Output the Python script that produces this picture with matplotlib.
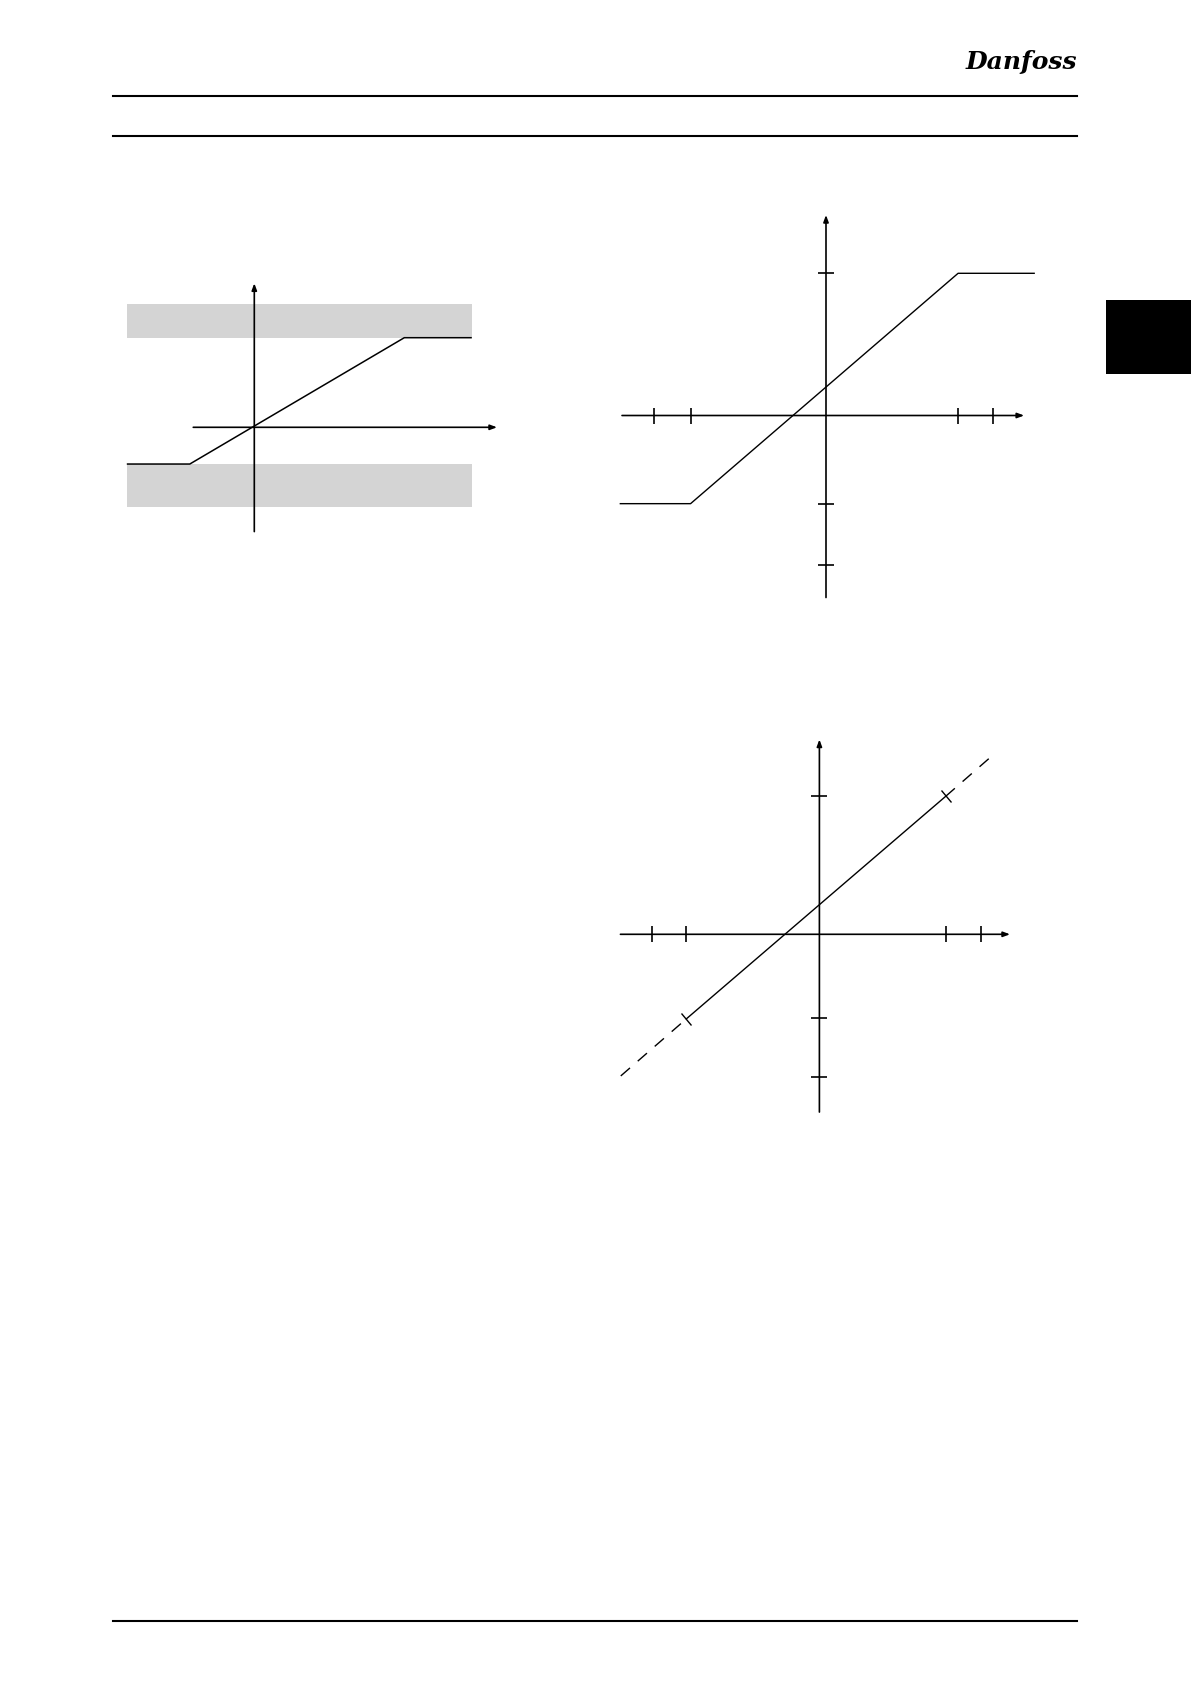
import matplotlib
matplotlib.use('Agg')
import matplotlib.pyplot as plt
from matplotlib.markers import MarkerStyle
from matplotlib.transforms import Affine2D
from matplotlib.patches import Rectangle
from matplotlib.lines import Line2D

W, H = 1191, 1684

# ---------------- data ----------------
# Chart 1 (clamped reference with limit bands)
c1_line_x = [-85, -43, 100, 145]
c1_line_y = [-41, -41, 100, 100]
c1_band_x = [-85, 145]
c1_band_upper = [100, 137.6]
c1_band_lower = [-88.6, -41]
c1_xaxis = [-40.7, 161.8]
c1_yaxis = [-116.4, 160.7]

# Chart 2 (scaled reference with clamped ends)
c2_xticks = [-103, -81, 79, 100]
c2_yticks = [100, -62, -105]
c2_line_x = [-123, -81, 79, 124.5]
c2_line_y = [-62, -62, 100, 100]
c2_xaxis = [-122, 118.5]
c2_yaxis = [-128, 141]

# Chart 3 (scaled reference with extrapolation)
c3_xticks = [-100, -79.6, 75.5, 96.5]
c3_yticks = [97, -59, -100.4]
c3_solid_x = [-79.6, 75.5]
c3_solid_y = [-59.5, 97]
c3_dash_low_x = [-118.8, -79.6]
c3_dash_low_y = [-99.6, -59.5]
c3_dash_high_x = [75.5, 101.6]
c3_dash_high_y = [97, 123.8]
c3_xaxis = [-119, 114]
c3_yaxis = [-125, 137]

# ---------------- figure ----------------
fig = plt.figure(figsize=(W / 100, H / 100), dpi=100)
fig.patch.set_facecolor('white')


def make_axes(ox, oy, sx, sy, xlim, ylim):
    left = ox + xlim[0] * sx
    right = ox + xlim[1] * sx
    top = oy - ylim[1] * sy
    bot = oy - ylim[0] * sy
    ax = fig.add_axes([left / W, 1 - bot / H, (right - left) / W, (bot - top) / H])
    ax.set_xlim(xlim)
    ax.set_ylim(ylim)
    ax.axis('off')
    return ax


def axis_arrow(ax, start, end, lw=1.2):
    ax.annotate('', xy=end, xytext=start,
                arrowprops=dict(arrowstyle='-|>,head_length=0.4,head_width=0.15',
                                lw=lw, color='black', shrinkA=0, shrinkB=0,
                                mutation_scale=10), zorder=3)


# ---- Chart 1 ----
ax1 = make_axes(254.3, 427.3, 1.5, 0.896, (-90, 170), (-120, 165))
band_color = '#d4d4d4'
ax1.fill_between(c1_band_x, c1_band_upper[0], c1_band_upper[1], color=band_color, lw=0, zorder=1)
ax1.fill_between(c1_band_x, c1_band_lower[0], c1_band_lower[1], color=band_color, lw=0, zorder=1)
axis_arrow(ax1, (c1_xaxis[0], 0), (c1_xaxis[1], 0))
axis_arrow(ax1, (0, c1_yaxis[0]), (0, c1_yaxis[1]))
ax1.plot(c1_line_x, c1_line_y, color='black', lw=1.1, zorder=4, solid_capstyle='butt')

# ---- Chart 2 ----
ax2 = make_axes(826, 415.5, 1.672, 1.422, (-130, 130), (-135, 150))
axis_arrow(ax2, (c2_xaxis[0], 0), (c2_xaxis[1], 0))
axis_arrow(ax2, (0, c2_yaxis[0]), (0, c2_yaxis[1]))
ax2.plot(c2_xticks, [0] * len(c2_xticks), ls='none', marker='|', ms=11.5, mew=1.2, color='black')
ax2.plot([0] * len(c2_yticks), c2_yticks, ls='none', marker='_', ms=11.5, mew=1.2, color='black')
ax2.plot(c2_line_x, c2_line_y, color='black', lw=1.0, zorder=4)

# ---- Chart 3 ----
ax3 = make_axes(819.4, 934.3, 1.672, 1.422, (-125, 125), (-130, 145))
axis_arrow(ax3, (c3_xaxis[0], 0), (c3_xaxis[1], 0))
axis_arrow(ax3, (0, c3_yaxis[0]), (0, c3_yaxis[1]))
ax3.plot(c3_xticks, [0] * len(c3_xticks), ls='none', marker='|', ms=11.5, mew=1.2, color='black')
ax3.plot([0] * len(c3_yticks), c3_yticks, ls='none', marker='_', ms=11.5, mew=1.2, color='black')
ax3.plot(c3_solid_x, c3_solid_y, color='black', lw=1.0, zorder=4)
ax3.plot(c3_dash_low_x, c3_dash_low_y, color='black', lw=1.0, dashes=(8.8, 7.4), zorder=4)
ax3.plot(c3_dash_high_x, c3_dash_high_y, color='black', lw=1.0, dashes=(8.8, 7.4), zorder=4)
slope_deg = 40.7
cross = MarkerStyle('|', transform=Affine2D().rotate_deg(slope_deg))
ax3.plot([c3_solid_x[0], c3_solid_x[1]], [c3_solid_y[0], c3_solid_y[1]], ls='none',
         marker=cross, ms=11, mew=1.0, color='black', zorder=5)

# ---------------- page decoration ----------------
for y in (95.6, 136.4):
    fig.add_artist(Line2D([113 / W, 1077 / W], [1 - y / H] * 2, lw=1.5, color='black',
                          transform=fig.transFigure))
fig.add_artist(Line2D([113 / W, 1077 / W], [1 - 1620.7 / H] * 2, lw=1.5, color='black',
                      transform=fig.transFigure))
fig.add_artist(Rectangle((1106 / W, 1 - 374 / H), 85 / W, 74 / H, facecolor='black',
                         edgecolor='none', transform=fig.transFigure))
fig.text(1021 / W, 1 - 62 / H, 'Danfoss', ha='center', va='center', fontsize=18,
         family='DejaVu Serif', style='italic', weight='bold', color='black')

fig.savefig('out.png', dpi=100, facecolor='white')
